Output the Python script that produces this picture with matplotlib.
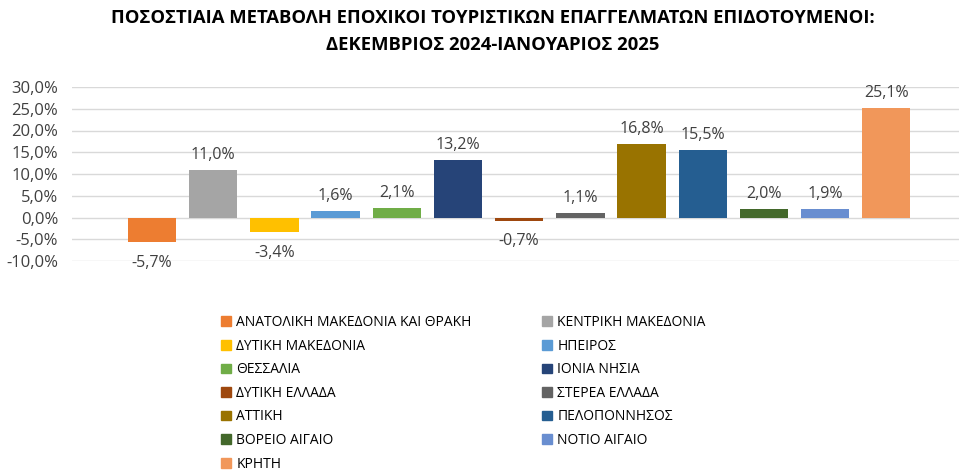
import matplotlib
matplotlib.use("Agg")
import matplotlib.pyplot as plt
from matplotlib.patches import Patch

plt.rcParams['font.family'] = ['Open Sans', 'DejaVu Sans']

regions = ["ΑΝΑΤΟΛΙΚΗ ΜΑΚΕΔΟΝΙΑ ΚΑΙ ΘΡΑΚΗ", "ΚΕΝΤΡΙΚΗ ΜΑΚΕΔΟΝΙΑ", "ΔΥΤΙΚΗ ΜΑΚΕΔΟΝΙΑ",
           "ΗΠΕΙΡΟΣ", "ΘΕΣΣΑΛΙΑ", "ΙΟΝΙΑ ΝΗΣΙΑ", "ΔΥΤΙΚΗ ΕΛΛΑΔΑ", "ΣΤΕΡΕΑ ΕΛΛΑΔΑ",
           "ΑΤΤΙΚΗ", "ΠΕΛΟΠΟΝΝΗΣΟΣ", "ΒΟΡΕΙΟ ΑΙΓΑΙΟ", "ΝΟΤΙΟ ΑΙΓΑΙΟ", "ΚΡΗΤΗ"]
change = [-5.7, 11.0, -3.4, 1.6, 2.1, 13.2, -0.7, 1.1, 16.8, 15.5, 2.0, 1.9, 25.1]
colors = ["#ED7D31", "#A5A5A5", "#FFC000", "#5B9BD5", "#70AD47", "#264478", "#9E480E",
          "#636363", "#997300", "#255E91", "#43682B", "#698ED0", "#F1975A"]
yticks = [-10, -5, 0, 5, 10, 15, 20, 25, 30]

fig = plt.figure(figsize=(9.59, 4.72), dpi=100)
ax = fig.add_axes([72/959, 1-261/472, 887/959, 174/472])

x = list(range(len(change)))
ax.bar(x, change, width=0.79, color=colors, zorder=3)
for i, v in enumerate(change):
    lbl = f"{v:.1f}%".replace(".", ",")
    if v >= 0:
        ax.annotate(lbl, (i, v), xytext=(0, 5), textcoords="offset points",
                    ha="center", va="bottom", fontsize=11.5, color="#404040")
    else:
        ax.annotate(lbl, (i, v), xytext=(0, -9), textcoords="offset points",
                    ha="center", va="top", fontsize=11.5, color="#404040")

ax.set_xlim(-1.31, 13.19)
ax.set_ylim(-10, 30)
ax.set_yticks(yticks)
ax.set_yticklabels([f"{t:.1f}%".replace(".", ",") for t in yticks], fontsize=12, color="#404040")
ax.set_xticks([])
ax.tick_params(axis="y", length=0, pad=10)
ax.grid(axis="y", color="#D9D9D9", linewidth=1, zorder=0)
for s in ax.spines.values():
    s.set_visible(False)

fig.text(493/959, 1-18/472, "ΠΟΣΟΣΤΙΑΙΑ ΜΕΤΑΒΟΛΗ ΕΠΟΧΙΚΟΙ ΤΟΥΡΙΣΤΙΚΩΝ ΕΠΑΓΓΕΛΜΑΤΩΝ ΕΠΙΔΟΤΟΥΜΕΝΟΙ:",
         ha="center", va="center", fontsize=13.3, fontweight="bold", color="#000000")
fig.text(493/959, 1-45/472, "ΔΕΚΕΜΒΡΙΟΣ 2024-ΙΑΝΟΥΑΡΙΟΣ 2025",
         ha="center", va="center", fontsize=13.3, fontweight="bold", color="#000000")

handles = [Patch(color=c) for c in colors]
left = list(range(0, 13, 2))
right = list(range(1, 13, 2))
for idx, xpos in ((left, 221/959), (right, 542/959)):
    fig.legend([handles[i] for i in idx], [regions[i] for i in idx],
               loc="upper left", bbox_to_anchor=(xpos, 1-315/472), frameon=False,
               fontsize=10, handlelength=0.7, handleheight=0.7, handletextpad=0.4,
               labelspacing=0.62, labelcolor="#000000", borderaxespad=0, borderpad=0)

fig.savefig("out.png", dpi=100)
